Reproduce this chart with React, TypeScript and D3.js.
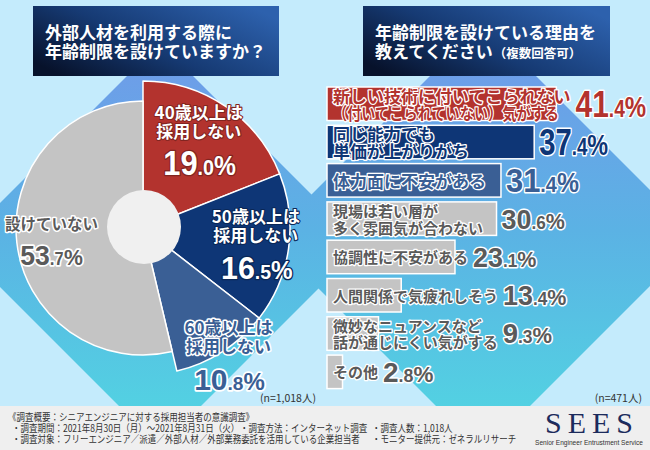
import React, { useEffect, useRef } from "react";
import * as d3 from "d3";

// ---------- data ----------
const leftTitle = ["外部人材を利用する際に", "年齢制限を設けていますか？"];
const rightTitleLine1 = "年齢制限を設けている理由を";
const rightTitleLine2 = "教えてください";
const rightTitleNote = "（複数回答可）";

const pieCategories = ["40歳以上は採用しない", "50歳以上は採用しない", "60歳以上は採用しない", "設けていない"];
const pieLabelLines = [["40歳以上は", "採用しない"], ["50歳以上は", "採用しない"], ["60歳以上は", "採用しない"], ["設けていない"]];
const pieValues = [19.0, 16.5, 10.8, 53.7];
const pieSample = "(n=1,018人)";

const barCategories = [
  "新しい技術に付いてこられない（付いてこられていない）気がする",
  "同じ能力でも単価が上がりがち",
  "体力面に不安がある",
  "現場は若い層が多く雰囲気が合わない",
  "協調性に不安がある",
  "人間関係で気疲れしそう",
  "微妙なニュアンスなど話が通じにくい気がする",
  "その他",
];
const barLabelLines = [
  ["新しい技術に付いてこられない", "（付いてこられていない）気がする"],
  ["同じ能力でも", "単価が上がりがち"],
  ["体力面に不安がある"],
  ["現場は若い層が", "多く雰囲気が合わない"],
  ["協調性に不安がある"],
  ["人間関係で気疲れしそう"],
  ["微妙なニュアンスなど", "話が通じにくい気がする"],
  ["その他"],
];
const barValues = [41.4, 37.4, 31.4, 30.6, 23.1, 13.4, 9.3, 2.8];
const barSample = "(n=471人)";

const footerTitle = "《調査概要：シニアエンジニアに対する採用担当者の意識調査》";
const footerRow1 = ["・調査期間：2021年8月30日（月）～2021年8月31日（火）", "・調査方法：インターネット調査", "・調査人数：1,018人"];
const footerRow2 = ["・調査対象：フリーエンジニア／派遣／外部人材／外部業務委託を活用している企業担当者", "・モニター提供元：ゼネラルリサーチ"];
const logoText = "SEES";
const logoSub = "Senior Engineer Entrustment Service";

// ---------- styles ----------
const RED = "#b3332e";
const NAVY = "#0e3676";
const MID = "#3a5f95";
const GRAY = "#c4c4c4";
const TGRAY = "#5a5a5a";
const pieColors = [RED, NAVY, MID, GRAY];
const barColors = [RED, NAVY, MID, GRAY, GRAY, GRAY, GRAY, GRAY];
const barTextColors = [RED, NAVY, MID, TGRAY, TGRAY, TGRAY, TGRAY, TGRAY];
const barTextSize = [17, 17, 17, 15, 15, 15, 15, 15];
const barLineMaxWidth = [[240, 226], [0, 0], [0], [0, 0], [0], [0], [0, 0], [0]];
const barPctSize = [37, 37, 34, 28, 28, 28, 28, 28];
const barPctScale = [0.81, 0.79, 0.91, 0.96, 0.96, 0.96, 0.98, 1];
const pieLabelRadius = [99, 114, 158, 92];
const pieLabelDy = [0, 6, 0, 8];
const piePctSize = [35, 32, 30, 28];
const piePctScale = [0.88, 0.95, 1, 0.95];

const JP = "'Noto Sans CJK JP', 'Noto Sans', sans-serif";
const NUM = "'Liberation Sans', Arial, sans-serif";

export default function App() {
  const ref = useRef<SVGSVGElement>(null);

  useEffect(() => {
    const svg = d3.select(ref.current);
    svg.selectAll("*").remove();
    const W = 650, H = 450;

    const defs = svg.append("defs");
    const gd = defs.append("linearGradient").attr("id", "diam")
      .attr("gradientUnits", "userSpaceOnUse").attr("x1", 0).attr("y1", 40).attr("x2", 0).attr("y2", 420);
    gd.append("stop").attr("offset", 0).attr("stop-color", "#719ae9");
    gd.append("stop").attr("offset", 0.5).attr("stop-color", "#5bb2e4");
    gd.append("stop").attr("offset", 1).attr("stop-color", "#52d3e2");
    const gt = defs.append("linearGradient").attr("id", "titleg")
      .attr("x1", 0).attr("y1", 0.8).attr("x2", 1).attr("y2", 0.2);
    gt.append("stop").attr("offset", 0).attr("stop-color", "#07122b");
    gt.append("stop").attr("offset", 0.45).attr("stop-color", "#163a73");
    gt.append("stop").attr("offset", 1).attr("stop-color", "#2d61ad");

    svg.append("rect").attr("width", W).attr("height", H).attr("fill", "#c4ebfc");

    const diamond = (cx: number, cy: number, r: number) =>
      `M${cx},${cy - r}L${cx + r},${cy}L${cx},${cy + r}L${cx - r},${cy}Z`;
    svg.append("path").attr("d", diamond(160, 245, 202)).attr("fill", "url(#diam)");
    svg.append("path").attr("d", diamond(483, 238, 215)).attr("fill", "url(#diam)");

    // footer band
    svg.append("rect").attr("x", 0).attr("y", 406).attr("width", W).attr("height", H - 406).attr("fill", "#efefef");

    // title boxes
    const titleBox = (x: number, w: number) =>
      svg.append("rect").attr("x", x).attr("y", 6).attr("width", w).attr("height", 70).attr("fill", "url(#titleg)");
    titleBox(33, 246);
    titleBox(363, 247);

    const tl = svg.append("text").attr("font-family", JP).attr("font-weight", 700).attr("font-size", 17).attr("fill", "#fff");
    tl.append("tspan").attr("x", 45).attr("y", 39).text(leftTitle[0]);
    tl.append("tspan").attr("x", 45).attr("y", 58).text(leftTitle[1]);
    const tr = svg.append("text").attr("font-family", JP).attr("font-weight", 700).attr("font-size", 17).attr("fill", "#fff");
    tr.append("tspan").attr("x", 375).attr("y", 39).text(rightTitleLine1);
    tr.append("tspan").attr("x", 375).attr("y", 58).text(rightTitleLine2);
    tr.append("tspan").attr("font-size", 12.5).attr("dx", 1).text(rightTitleNote);

    // helper for percentage text
    const pctText = (parent: any, x: number, y: number, v: number, F: number, sx: number,
      anchor: string, fill: string, stroke: string, sw: number) => {
      const [ip, dp] = v.toFixed(1).split(".");
      const t = parent.append("text")
        .attr("transform", `translate(${x},${y}) scale(${sx},1)`)
        .attr("text-anchor", anchor).attr("font-family", NUM).attr("font-weight", 700)
        .attr("fill", fill).attr("stroke", stroke).attr("stroke-width", sw)
        .attr("stroke-linejoin", "round").attr("paint-order", "stroke");
      t.append("tspan").attr("font-size", F).text(ip);
      t.append("tspan").attr("font-size", F * 0.64).text("." + dp);
      t.append("tspan").attr("font-size", F * 0.8).text("%");
      return t;
    };

    // ---------- pie ----------
    const cx = 143, cy = 228;
    const pie = d3.pie<number>().sort(null).value((d) => d);
    const arcs = pie(pieValues);
    const arcGen = d3.arc<d3.PieArcDatum<number>>().innerRadius(0);
    const pg = svg.append("g").attr("transform", `translate(${cx},${cy})`);
    pg.selectAll("path.slice").data(arcs).join("path")
      .attr("class", "slice")
      .attr("d", (d, i) => arcGen.outerRadius(i < 3 ? 147 : 127)(d) as string)
      .attr("fill", (_, i) => pieColors[i])
      .attr("stroke", "#fff").attr("stroke-width", 1.5).attr("stroke-linejoin", "round");
    pg.append("circle").attr("r", 37).attr("cx", 1).attr("cy", -1).attr("fill", "#f0f0f0");

    arcs.forEach((a, i) => {
      const mid = (a.startAngle + a.endAngle) / 2;
      const r = pieLabelRadius[i];
      const lx = cx + r * Math.sin(mid);
      const ly = cy - r * Math.cos(mid) + pieLabelDy[i];
      const lines = pieLabelLines[i];
      const whiteText = i < 2;
      const fill = whiteText ? "#fff" : (i === 2 ? MID : TGRAY);
      const stroke = whiteText ? (d3.color(pieColors[i]) as any).darker(0.9).toString() : "#fff";
      const sw = whiteText ? 2.2 : 3;
      const fs = i < 3 ? 17 : 15.5;
      const t = svg.append("text").attr("text-anchor", "middle").attr("font-family", JP)
        .attr("font-weight", 700).attr("font-size", fs).attr("fill", fill)
        .attr("stroke", stroke).attr("stroke-width", sw).attr("stroke-linejoin", "round")
        .attr("paint-order", "stroke");
      if (lines.length === 2) {
        t.append("tspan").attr("x", lx).attr("y", ly - 27).text(lines[0]);
        t.append("tspan").attr("x", lx).attr("y", ly - 8).text(lines[1]);
        pctText(svg, lx + 1, ly + 29, pieValues[i], piePctSize[i], piePctScale[i], "middle", fill, stroke, sw + 0.5);
      } else {
        t.append("tspan").attr("x", lx).attr("y", ly - 17).text(lines[0]);
        pctText(svg, lx, ly + 18, pieValues[i], piePctSize[i], piePctScale[i], "middle", fill, stroke, sw + 0.5);
      }
    });

    svg.append("text").attr("x", 316).attr("y", 402).attr("text-anchor", "end")
      .attr("font-family", JP).attr("font-size", 10.5).attr("fill", "#333").text(pieSample);

    // ---------- bars ----------
    const x = d3.scaleLinear().domain([0, 50]).range([327, 604]);
    const y = d3.scaleBand<number>().domain(d3.range(barValues.length)).range([87, 388.6])
      .paddingInner(0.125).paddingOuter(0);
    const bg = svg.append("g");
    bg.selectAll("rect").data(barValues).join("rect")
      .attr("x", x(0)).attr("y", (_, i) => y(i) as number)
      .attr("width", (d) => x(d) - x(0)).attr("height", y.bandwidth())
      .attr("fill", (_, i) => barColors[i])
      .attr("stroke", "#fff").attr("stroke-width", 1.5);

    barLabelLines.forEach((lines, i) => {
      const c = (y(i) as number) + y.bandwidth() / 2;
      const fs = barTextSize[i];
      const lh = 8.4;
      let textEnd = x(0) + 6;
      lines.forEach((ln, k) => {
        const t = svg.append("text").attr("font-family", JP).attr("font-weight", 700)
          .attr("font-size", fs).attr("fill", barTextColors[i])
          .attr("stroke", "#fff").attr("stroke-width", 2.6).attr("stroke-linejoin", "round")
          .attr("paint-order", "stroke").attr("dominant-baseline", "central")
          .attr("x", x(0) + 6)
          .attr("y", lines.length === 2 ? c + (k === 0 ? -lh : lh) : c)
          .text(ln);
        const node = t.node() as SVGTextElement;
        let len = node.getComputedTextLength();
        const mw = barLineMaxWidth[i][k];
        if (mw && len > mw) {
          t.attr("textLength", mw).attr("lengthAdjust", "spacingAndGlyphs");
          len = mw;
        }
        textEnd = Math.max(textEnd, x(0) + 6 + len);
      });
      const px = Math.max(textEnd, x(barValues[i])) + 5;
      const F = barPctSize[i];
      pctText(svg, px, c + F * 0.355, barValues[i], F, barPctScale[i], "start", barTextColors[i], "#fff", 3);
    });

    svg.append("text").attr("x", 642).attr("y", 402).attr("text-anchor", "end")
      .attr("font-family", JP).attr("font-size", 10.5).attr("fill", "#333").text(barSample);

    // ---------- footer ----------
    const ft = (tx: number, ty: number, s: string) =>
      svg.append("text").attr("transform", `translate(${tx},${ty}) scale(0.85,1)`)
        .attr("font-family", JP).attr("font-size", 10).attr("fill", "#333").text(s);
    ft(8, 421, footerTitle);
    ft(12, 432, footerRow1[0]);
    ft(240, 432, footerRow1[1]);
    ft(372, 432, footerRow1[2]);
    ft(12, 443, footerRow2[0]);
    ft(372, 443, footerRow2[1]);

    svg.append("text").attr("x", 545).attr("y", 433).attr("font-family", "'Liberation Serif', 'DejaVu Serif', serif")
      .attr("font-size", 30).attr("letter-spacing", 6).attr("fill", "#1c2b5c").text(logoText);
    svg.append("text").attr("x", 535).attr("y", 445).attr("font-family", "'Liberation Sans', Arial, sans-serif")
      .attr("font-size", 7).attr("textLength", 108).attr("lengthAdjust", "spacingAndGlyphs")
      .attr("fill", "#333").text(logoSub);
  }, []);

  return (
    <svg ref={ref} width={650} height={450}
      style={{ position: "absolute", left: 0, top: 0, display: "block" }}>
      <title>{pieCategories.join(" / ") + " | " + barCategories.join(" / ")}</title>
    </svg>
  );
}
